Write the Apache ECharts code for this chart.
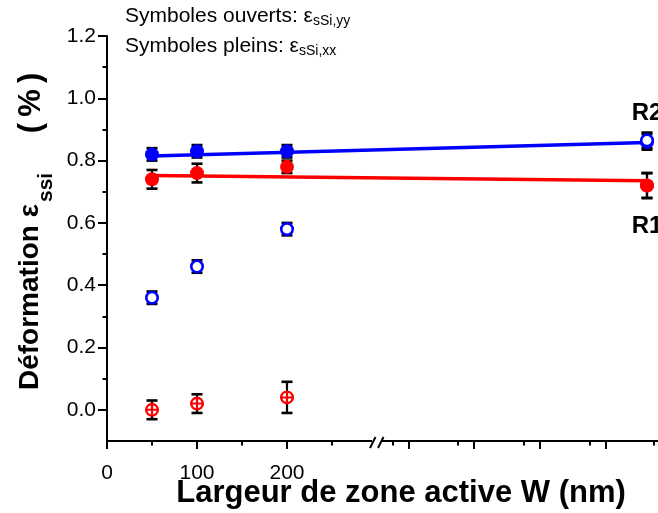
<!DOCTYPE html>
<html>
<head>
<meta charset="utf-8">
<script src="https://cdn.jsdelivr.net/npm/echarts@6/dist/echarts.min.js"></script>
<style>html,body{margin:0;padding:0;background:#fff}#c{width:658px;height:513px}</style>
</head>
<body>
<div id="c"></div>
<script>
// ---- data ----
const widths = [50, 100, 200];          // W (nm)
const refPosition = 600;                // x position of reference samples (R1/R2) after the axis break
const xs = widths.concat([refPosition]);
const blueFilled    = [0.82, 0.83, 0.83, 0.86];
const blueFilledErr = [0.02, 0.02, 0.02, 0.025];
const redFilled     = [0.74, 0.76, 0.78, 0.72];
const redFilledErr  = [0.03, 0.03, 0.02, 0.04];
const blueOpen      = [0.36, 0.46, 0.58, 0.865];
const blueOpenErr   = [0.02, 0.02, 0.02, 0.025];
const redOpen       = [0.00, 0.02, 0.04, 0.72];
const redOpenErr    = [0.03, 0.03, 0.05, 0.04];
const fitX    = [50, 600];
const blueFit = [0.815, 0.858];
const redFit  = [0.752, 0.735];
const xLabelValues = [0, 100, 200];
const xMajorTicks = [0, 100, 200, 335, 408, 481, 554, 627];
const xMinorTicks = [50, 150, 250, 317, 390, 463, 536, 608];
const yLabelValues = [0, 0.2, 0.4, 0.6, 0.8, 1.0, 1.2];
const yMinorTicks = [0.1, 0.3, 0.5, 0.7, 0.9, 1.1];
const breakAt = 300;

const FONT = '"Liberation Sans", Arial, sans-serif';
const pts = (vals) => vals.map((v, i) => [xs[i], v]);
const errs = (vals, e) => vals.map((v, i) => [xs[i], v - e[i], v + e[i]]);
const fit = (ys) => ys.map((v, i) => [fitX[i], v]);

const chart = echarts.init(document.getElementById('c'));

function errorBar(params, api) {
  const x = api.value(0);
  const lo = api.coord([x, api.value(1)]);
  const hi = api.coord([x, api.value(2)]);
  const hw = 5.5;
  return {
    type: 'group',
    children: [
      { type: 'line', shape: { x1: lo[0], y1: lo[1], x2: hi[0], y2: hi[1] }, style: { stroke: '#000', lineWidth: 2.2 } },
      { type: 'line', shape: { x1: lo[0] - hw, y1: lo[1], x2: lo[0] + hw, y2: lo[1] }, style: { stroke: '#000', lineWidth: 2.6 } },
      { type: 'line', shape: { x1: hi[0] - hw, y1: hi[1], x2: hi[0] + hw, y2: hi[1] }, style: { stroke: '#000', lineWidth: 2.6 } }
    ]
  };
}
function errSeries(data) {
  return { type: 'custom', renderItem: errorBar, data: data, z: 3, silent: true, clip: false };
}

const crossCircle = 'path://M0,-7A7,7,0,1,1,0,7A7,7,0,1,1,0,-7Z M0,-4.7A4.7,4.7,0,1,0,0,4.7A4.7,4.7,0,1,0,0,-4.7Z M-1,-7L1,-7L1,7L-1,7Z M-7,-1L7,-1L7,1L-7,1Z';

const minorAxis = (extra) => Object.assign({
  type: 'value', offset: 0,
  axisLine: { show: false, onZero: false },
  axisLabel: { show: false },
  splitLine: { show: false }
}, extra);

// width of the y title main part, to place its subscript
const mctx = document.createElement('canvas').getContext('2d');
mctx.font = 'bold 28px ' + FONT;
const yTitleMain = 'Déformation ε';
const yTitleMainW = mctx.measureText(yTitleMain).width;

const option = {
  animation: false,
  backgroundColor: '#fff',
  grid: { left: 107, top: 36, width: 576, height: 405, containLabel: false, outerBoundsMode: 'none' },
  xAxis: [
    {
      type: 'value', min: 0, max: 640, position: 'bottom', offset: 0,
      axisLine: { show: true, onZero: false, lineStyle: { color: '#000', width: 2 } },
      axisTick: { show: true, inside: false, length: 8, customValues: xMajorTicks, lineStyle: { color: '#000', width: 2 } },
      axisLabel: { show: true, customValues: xLabelValues, color: '#000', fontSize: 21, fontFamily: FONT, margin: 22 },
      splitLine: { show: false }
    },
    minorAxis({ min: 0, max: 640, position: 'bottom',
      axisTick: { show: true, inside: false, length: 4.5, customValues: xMinorTicks, lineStyle: { color: '#000', width: 2 } } })
  ],
  yAxis: [
    {
      type: 'value', min: -0.1, max: 1.2, position: 'left', offset: 0,
      axisLine: { show: true, onZero: false, lineStyle: { color: '#000', width: 2 } },
      axisTick: { show: true, inside: false, length: 9, customValues: yLabelValues, lineStyle: { color: '#000', width: 2 } },
      axisLabel: { show: true, customValues: yLabelValues, color: '#000', fontSize: 21, fontFamily: FONT, margin: 11,
        formatter: (v) => v.toFixed(1) },
      splitLine: { show: false }
    },
    minorAxis({ min: -0.1, max: 1.2, position: 'left',
      axisTick: { show: true, inside: false, length: 4.5, customValues: yMinorTicks, lineStyle: { color: '#000', width: 2 } } })
  ],
  series: [
    { type: 'line', data: fit(blueFit), showSymbol: false, lineStyle: { color: '#0000ff', width: 3.5 }, z: 2, silent: true },
    { type: 'line', data: fit(redFit), showSymbol: false, lineStyle: { color: '#ff0000', width: 3.5 }, z: 2, silent: true },
    errSeries(errs(blueFilled, blueFilledErr)),
    errSeries(errs(redFilled, redFilledErr)),
    errSeries(errs(blueOpen, blueOpenErr)),
    errSeries(errs(redOpen, redOpenErr)),
    { type: 'scatter', data: pts(redOpen), symbol: crossCircle, symbolSize: 14,
      itemStyle: { color: '#ff0000', opacity: 1 }, z: 4 },
    { type: 'scatter', data: pts(redFilled), symbol: 'circle', symbolSize: 14,
      itemStyle: { color: '#ff0000', opacity: 1 }, z: 5,
      label: { show: true, formatter: (p) => p.dataIndex === 3 ? 'R1' : '', position: 'bottom', distance: 22,
        color: '#000', fontSize: 24, fontWeight: 'bold', fontFamily: FONT } },
    { type: 'scatter', data: pts(blueFilled), symbol: 'circle', symbolSize: 14,
      itemStyle: { color: '#0000ff', opacity: 1 }, z: 4,
      label: { show: true, formatter: (p) => p.dataIndex === 3 ? 'R2' : '', position: 'top', distance: 10,
        color: '#000', fontSize: 24, fontWeight: 'bold', fontFamily: FONT } },
    { type: 'scatter', data: pts(blueOpen), symbol: 'circle', symbolSize: 11.5,
      itemStyle: { color: '#ffffff', borderColor: '#0000ff', borderWidth: 2.6, opacity: 1 }, z: 5 }
  ],
  graphic: [
    { type: 'text', left: 125, top: 6, z: 10,
      style: { text: '{a|Symboles ouverts: ε}{s|sSi,yy}', rich: {
        a: { fontSize: 21, fontFamily: FONT, fill: '#000' },
        s: { fontSize: 14, fontFamily: FONT, fill: '#000', padding: [10, 0, 0, 0] } } } },
    { type: 'text', left: 125, top: 36, z: 10,
      style: { text: '{a|Symboles pleins: ε}{s|sSi,xx}', rich: {
        a: { fontSize: 21, fontFamily: FONT, fill: '#000' },
        s: { fontSize: 14, fontFamily: FONT, fill: '#000', padding: [10, 0, 0, 0] } } } },
    { type: 'text', x: 30, y: 390, rotation: Math.PI / 2, z: 10,
      style: { text: yTitleMain, align: 'left', verticalAlign: 'middle',
        fontSize: 28, fontWeight: 'bold', fontFamily: FONT, fill: '#000' } },
    { type: 'text', x: 46, y: 390 - yTitleMainW - 2, rotation: Math.PI / 2, z: 10,
      style: { text: 'ssi', align: 'left', verticalAlign: 'middle',
        fontSize: 21, fontWeight: 'bold', fontFamily: FONT, fill: '#000' } },
    { type: 'text', x: 31, y: 103, rotation: Math.PI / 2, z: 10,
      style: { text: '(\u2009%\u2009)', align: 'center', verticalAlign: 'middle',
        fontSize: 31, fontWeight: 'bold', fontFamily: FONT, fill: '#000' } },
    { type: 'text', x: 401, y: 493, z: 10,
      style: { text: 'Largeur de zone active W (nm)', align: 'center', verticalAlign: 'middle',
        fontSize: 31, fontWeight: 'bold', fontFamily: FONT, fill: '#000' } }
  ]
};
chart.setOption(option);

// axis break decoration at the break value
const bp = chart.convertToPixel({ xAxisIndex: 0, yAxisIndex: 0 }, [breakAt, -0.1]);
const bx = bp[0], by = bp[1];
chart.setOption({
  graphic: option.graphic.concat([
    { type: 'rect', shape: { x: bx - 5, y: by - 2, width: 10, height: 4 }, style: { fill: '#fff' }, z: 20 },
    { type: 'line', shape: { x1: bx - 7, y1: by + 7, x2: bx - 1.5, y2: by - 4 }, style: { stroke: '#000', lineWidth: 2 }, z: 21 },
    { type: 'line', shape: { x1: bx + 1, y1: by + 7, x2: bx + 6.5, y2: by - 4 }, style: { stroke: '#000', lineWidth: 2 }, z: 21 }
  ])
});
</script>
</body>
</html>
